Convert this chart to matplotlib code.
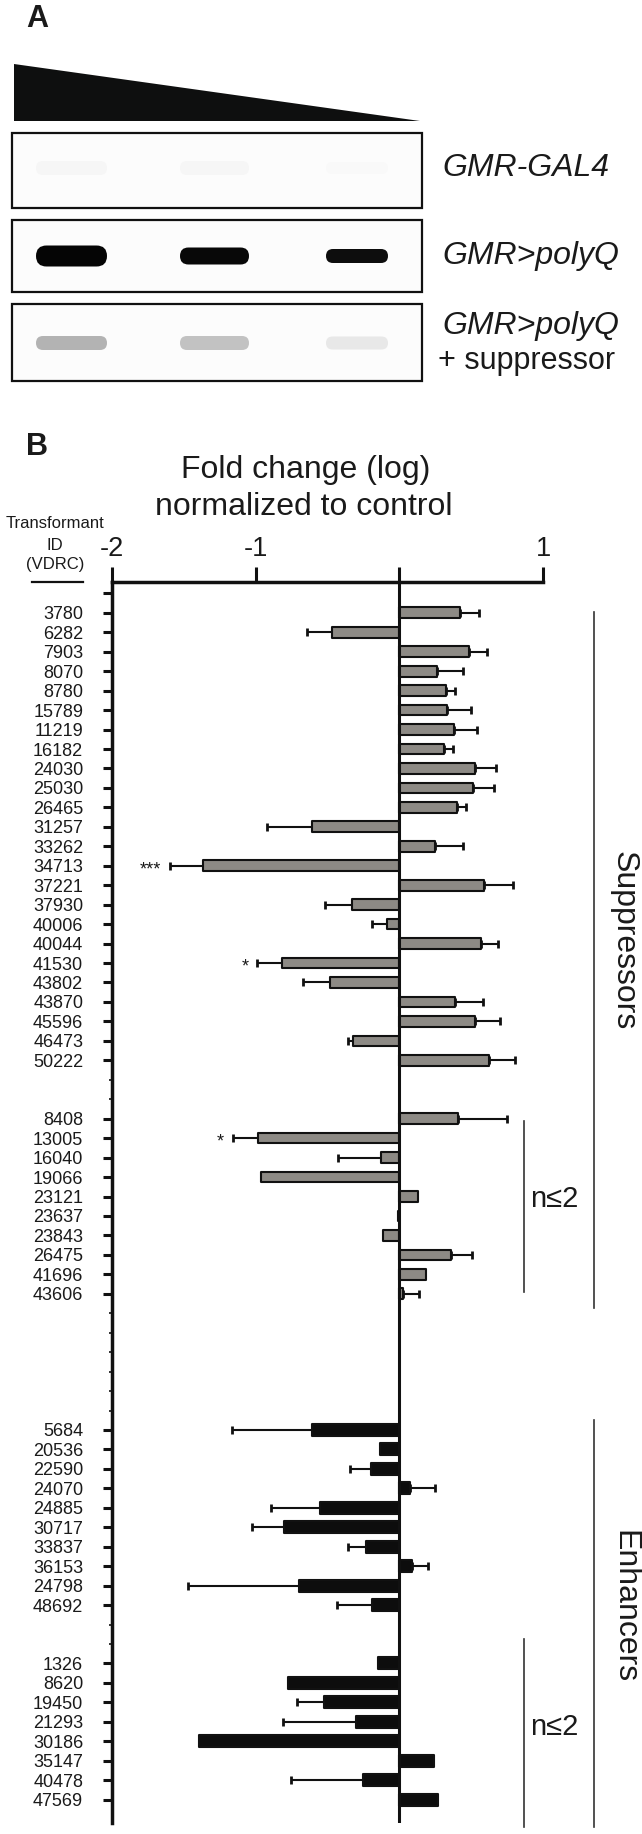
import matplotlib
matplotlib.use("Agg")
import matplotlib.pyplot as plt
from matplotlib.patches import Polygon, Rectangle, FancyBboxPatch

plt.rcParams['font.family'] = ['Liberation Sans', 'DejaVu Sans']

# ---------------- data (panel B) ----------------
sup_ids = ['3780', '6282', '7903', '8070', '8780', '15789', '11219', '16182', '24030', '25030',
           '26465', '31257', '33262', '34713', '37221', '37930', '40006', '40044', '41530', '43802',
           '43870', '45596', '46473', '50222']
sup_vals = [0.418, -0.469, 0.486, 0.264, 0.324, 0.332, 0.378, 0.312, 0.526, 0.514,
            0.398, -0.611, 0.250, -1.364, 0.588, -0.332, -0.085, 0.568, -0.815, -0.480,
            0.384, 0.526, -0.321, 0.625]
sup_err = [0.136, 0.176, 0.119, 0.176, 0.062, 0.165, 0.159, 0.063, 0.147, 0.142,
           0.062, 0.307, 0.190, 0.233, 0.199, 0.185, 0.105, 0.114, 0.174, 0.188,
           0.193, 0.170, 0.034, 0.179]

supn_ids = ['8408', '13005', '16040', '19066', '23121', '23637', '23843', '26475', '41696', '43606']
supn_vals = [0.406, -0.986, -0.128, -0.963, 0.131, -0.010, -0.114, 0.355, 0.185, 0.025]
supn_err = [0.341, 0.173, 0.298, 0.0, 0.0, 0.0, 0.0, 0.146, 0.0, 0.113]

enh_ids = ['5684', '20536', '22590', '24070', '24885', '30717', '33837', '36153', '24798', '48692']
enh_vals = [-0.611, -0.134, -0.200, 0.071, -0.554, -0.804, -0.233, 0.085, -0.696, -0.193]
enh_err = [0.554, 0.0, 0.141, 0.176, 0.341, 0.219, 0.122, 0.114, 0.773, 0.242]

enhn_ids = ['1326', '8620', '19450', '21293', '30186', '35147', '40478', '47569']
enhn_vals = [-0.150, -0.776, -0.526, -0.304, -1.392, 0.241, -0.256, 0.270]
enhn_err = [0.0, 0.0, 0.184, 0.506, 0.0, 0.0, 0.497, 0.0]

significance = {'34713': '***', '41530': '*', '13005': '*'}

x_ticks = [-2, -1, 0, 1]
x_ticklabels = ['-2', '-1', '', '1']

# ---------------- panel A (blot) data ----------------
blot_rows = ['GMR-GAL4', 'GMR>polyQ', 'GMR>polyQ\n+ suppressor']
band_gray = [[0.965, 0.965, 0.975],   # near-invisible bands
             [0.02, 0.03, 0.05],      # strong bands
             [0.70, 0.76, 0.91]]      # weak bands with suppressor

# ---------------- figure ----------------
W, H = 642, 1834
fig = plt.figure(figsize=(W / 100, H / 100), dpi=100)
ov = fig.add_axes([0, 0, 1, 1])
ov.set_xlim(0, W)
ov.set_ylim(H, 0)
ov.axis('off')

TXT = '#1a1a1a'

# Panel A
ov.text(26, 19, 'A', fontsize=22, fontweight='bold', color=TXT, ha='left', va='center')
ov.add_patch(Polygon([(14, 64), (14, 121), (420, 121)], closed=True, color='#0e0f0f', lw=0))

box_y = [(133, 208), (220, 292), (304, 381)]
lane_x = [(33, 110), (177, 252), (323, 391)]
band_h = [[14, 14, 12], [21, 17, 14], [14, 14, 13]]
band_cy = [168, 256, 343]
for r, (y0, y1) in enumerate(box_y):
    ov.add_patch(Rectangle((12, y0), 410, y1 - y0, facecolor='#fcfcfc', edgecolor='#111111', lw=1.6))
    for k, (x0, x1) in enumerate(lane_x):
        g = band_gray[r][k]
        h = band_h[r][k]
        ov.add_patch(FancyBboxPatch((x0 + 3, band_cy[r] - h / 2), x1 - x0 - 6, h,
                                    boxstyle='round,pad=0,rounding_size=%g' % (h / 2),
                                    facecolor=str(g), edgecolor='none'))

ov.text(442, 168, 'GMR-GAL4', fontsize=23, style='italic', color=TXT, ha='left', va='center')
ov.text(442, 256, 'GMR>polyQ', fontsize=23, style='italic', color=TXT, ha='left', va='center')
ov.text(442, 326, 'GMR>polyQ', fontsize=23, style='italic', color=TXT, ha='left', va='center')
ov.text(438, 361, '+ suppressor', fontsize=22, color=TXT, ha='left', va='center')

# Panel B labels
ov.text(26, 447, 'B', fontsize=22, fontweight='bold', color=TXT, ha='left', va='center')
ov.text(306, 470, 'Fold change (log)', fontsize=23, color=TXT, ha='center', va='center')
ov.text(304, 507, 'normalized to control', fontsize=23, color=TXT, ha='center', va='center')
ov.text(55, 524, 'Transformant', fontsize=12, color=TXT, ha='center', va='center')
ov.text(55, 545, 'ID', fontsize=12, color=TXT, ha='center', va='center')
ov.text(55, 565, '(VDRC)', fontsize=12, color=TXT, ha='center', va='center')
ov.plot([32, 83], [582, 582], color='#111111', lw=1.6)

# ---------------- main bar chart ----------------
x_left, x_right = 111.7, 543.4
y_top, y_bot = 581.7, 1823
ax = fig.add_axes([x_left / W, 1 - y_bot / H, (x_right - x_left) / W, (y_bot - y_top) / H])
ax.set_facecolor('none')

groups = [(sup_ids, sup_vals, sup_err, '#8d8a85', 0.55),
          (supn_ids, supn_vals, supn_err, '#8d8a85', 0.55),
          (enh_ids, enh_vals, enh_err, '#0d0d0d', 0.62),
          (enhn_ids, enhn_vals, enhn_err, '#0d0d0d', 0.62)]
gaps = [2, 6, 2, 0]

pos = 1
all_pos, all_lab, empty_pos = [0], [''], []
for (ids, vals, errs, col, hgt), gap in zip(groups, gaps):
    p = list(range(pos, pos + len(ids)))
    ax.barh(p, vals, height=hgt, color=col, edgecolor='#111111', lw=1.5, zorder=3,
            joinstyle='round')
    ep = [pp for pp, e in zip(p, errs) if e > 0]
    ev = [v for v, e in zip(vals, errs) if e > 0]
    lo = [e if v < 0 else 0 for v, e in zip(vals, errs) if e > 0]
    hi = [e if v >= 0 else 0 for v, e in zip(vals, errs) if e > 0]
    ax.errorbar(ev, ep, xerr=[lo, hi], fmt='none', ecolor='#111111', elinewidth=1.5,
                capsize=3, capthick=2, zorder=2)
    for pp, i, v, e in zip(p, ids, vals, errs):
        if i in significance:
            ax.text(v - e - 0.06, pp + 0.45, significance[i], fontsize=13, color=TXT,
                    ha='right', va='baseline')
    all_pos += p
    all_lab += ids
    empty_pos += list(range(pos + len(ids), pos + len(ids) + gap))
    pos += len(ids) + gap

ax.axvline(0, color='#111111', lw=2.2, zorder=4)
ax.set_xlim(-2, 1)
ax.set_ylim(63.2, -0.6)

for s in ['right', 'bottom']:
    ax.spines[s].set_visible(False)
for s in ['left', 'top']:
    ax.spines[s].set_linewidth(2.5)
    ax.spines[s].set_color('#111111')

ax.xaxis.tick_top()
ax.set_xticks(x_ticks)
ax.set_xticklabels(x_ticklabels)
ax.tick_params(axis='x', direction='out', length=11, width=2.2, pad=3, labelsize=19.5,
               colors='#111111', labelcolor=TXT)
ax.set_yticks(all_pos)
ax.set_yticklabels(all_lab)
ax.set_yticks(empty_pos, minor=True)
ax.tick_params(axis='y', which='major', direction='out', length=6.5, width=2.2, pad=14,
               labelsize=13, colors='#111111', labelcolor=TXT)
ax.tick_params(axis='y', which='minor', direction='out', length=2, width=1.2, colors='#111111')

# group annotations (right side)
LC = '#333333'
ov.plot([594.3, 594.3], [611.7, 1307.7], color=LC, lw=1.2)
ov.plot([524, 524], [1120.7, 1292.3], color=LC, lw=1.2)
ov.plot([594.3, 594.3], [1420, 1827], color=LC, lw=1.2)
ov.plot([524, 524], [1639, 1827], color=LC, lw=1.2)
ov.text(624, 941, 'Suppressors', fontsize=23, rotation=270, color=TXT, ha='center', va='center')
ov.text(624, 1607, 'Enhancers', fontsize=23, rotation=270, color=TXT, ha='center', va='center')
ov.text(554.5, 1199, 'n≤2', fontsize=21, color=TXT, ha='center', va='center')
ov.text(554.5, 1727, 'n≤2', fontsize=21, color=TXT, ha='center', va='center')

fig.savefig('out.png', dpi=100, facecolor='white')
